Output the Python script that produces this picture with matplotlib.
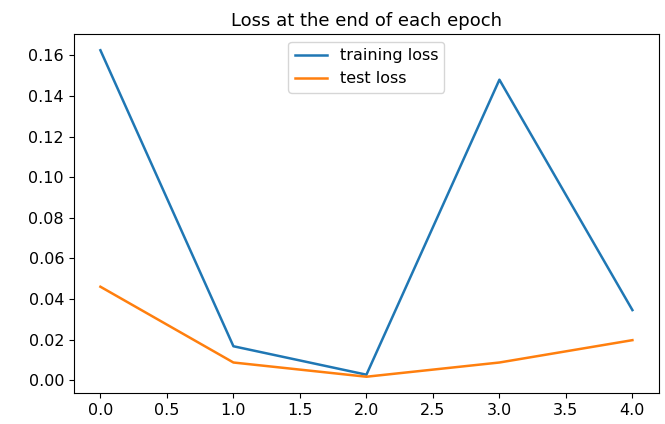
import matplotlib
matplotlib.use("Agg")
import matplotlib.pyplot as plt

# loss per epoch
epochs = [0, 1, 2, 3, 4]
training_loss = [0.1625, 0.0168, 0.0028, 0.1480, 0.0346]
test_loss = [0.0461, 0.0088, 0.0018, 0.0088, 0.0198]

fig = plt.figure(figsize=(6.65, 4.24), dpi=100)
ax = fig.add_axes([0.111, 0.073, 0.88, 0.847])

ax.plot(epochs, training_loss, label="training loss", linewidth=1.8)
ax.plot(epochs, test_loss, label="test loss", linewidth=1.8)

ax.set_title("Loss at the end of each epoch", fontsize=13)
ax.tick_params(labelsize=11.5)
ax.legend(loc="upper center", fontsize=11.5)

fig.savefig("out.png", dpi=100)
